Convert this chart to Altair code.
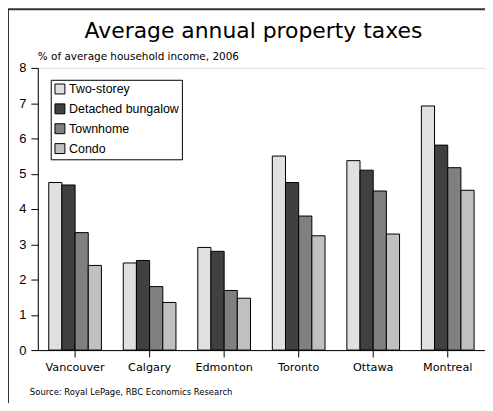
import altair as alt
import pandas as pd

cities = ["Vancouver", "Calgary", "Edmonton", "Toronto", "Ottawa", "Montreal"]
types = ["Two-storey", "Detached bungalow", "Townhome", "Condo"]
colors = ["#e0e0e0", "#404040", "#808080", "#c0c0c0"]
two_storey = [4.75, 2.47, 2.91, 5.50, 5.37, 6.92]
detached = [4.68, 2.54, 2.80, 4.75, 5.10, 5.81]
townhome = [3.33, 1.80, 1.69, 3.80, 4.51, 5.17]
condo = [2.40, 1.35, 1.47, 3.24, 3.29, 4.53]
y_ticks = [0, 1, 2, 3, 4, 5, 6, 7, 8]

title_text = "Average annual property taxes"
subtitle_text = "% of average household income, 2006"
source_text = "Source: Royal LePage, RBC Economics Research"

rows = []
for series, vals in zip(types, [two_storey, detached, townhome, condo]):
    for c, v in zip(cities, vals):
        rows.append({"city": c, "type": series, "value": v})
df = pd.DataFrame(rows)
one = pd.DataFrame({"a": [0]})

W, H = 450, 284

bars = alt.Chart(df).mark_bar(stroke="black", strokeWidth=1).encode(
    x=alt.X("city:N", sort=cities,
            scale=alt.Scale(paddingInner=0.293, paddingOuter=0.1465),
            axis=alt.Axis(title=None, labelAngle=0, labelFont="DejaVu Sans",
                          labelFontSize=11.3, labelColor="black", tickColor="black",
                          domainColor="black", tickSize=7, labelPadding=5)),
    xOffset=alt.XOffset("type:N", sort=types,
                        scale=alt.Scale(paddingInner=0, paddingOuter=0)),
    y=alt.Y("value:Q", scale=alt.Scale(domain=[0, 8], nice=False),
            axis=alt.Axis(title=None, values=y_ticks, grid=False, labelFont="Liberation Sans",
                          labelFontSize=13, labelColor="black", tickColor="black",
                          domainColor="black", tickSize=7, labelPadding=5)),
    color=alt.Color("type:N", sort=types,
                    scale=alt.Scale(domain=types, range=colors),
                    legend=alt.Legend(title=None, orient="none", legendX=13, legendY=12,
                                      strokeColor="black", fillColor="white", padding=3,
                                      symbolType="square", symbolSize=100,
                                      symbolStrokeColor="black", symbolStrokeWidth=1,
                                      labelFont="Liberation Sans", labelFontSize=12.5,
                                      labelColor="black", labelOffset=3, rowPadding=5,
                                      labelLimit=300)),
)

title = alt.Chart(one).mark_text(font="DejaVu Sans", fontSize=22,
                                 align="center", baseline="alphabetic", color="black").encode(
    x=alt.value(217), y=alt.value(-30), text=alt.value(title_text))
subtitle = alt.Chart(one).mark_text(font="DejaVu Sans", fontSize=10.5, align="left",
                                    baseline="alphabetic", color="black").encode(
    x=alt.value(0), y=alt.value(-8), text=alt.value(subtitle_text))
source = alt.Chart(one).mark_text(font="DejaVu Sans", fontSize=8.5, align="left",
                                  baseline="alphabetic", color="black").encode(
    x=alt.value(-8), y=alt.value(329), text=alt.value(source_text))

frame_left = alt.Chart(one).mark_rule(color="#333333", strokeWidth=2).encode(
    x=alt.value(-30), y=alt.value(-59), y2=alt.value(350))
frame_top = alt.Chart(one).mark_rule(color="#333333", strokeWidth=2).encode(
    x=alt.value(-30), x2=alt.value(460), y=alt.value(-59))

chart = alt.layer(frame_left, frame_top, bars, title, subtitle, source).properties(
    width=W, height=H,
    autosize=alt.AutoSizeParams(type="none"),
    padding={"left": 30, "top": 59, "right": 0, "bottom": 52},
).configure_view(stroke="black", strokeWidth=1).configure(background="white")

chart.save("out.html", embed_options={"renderer": "svg", "actions": False})
